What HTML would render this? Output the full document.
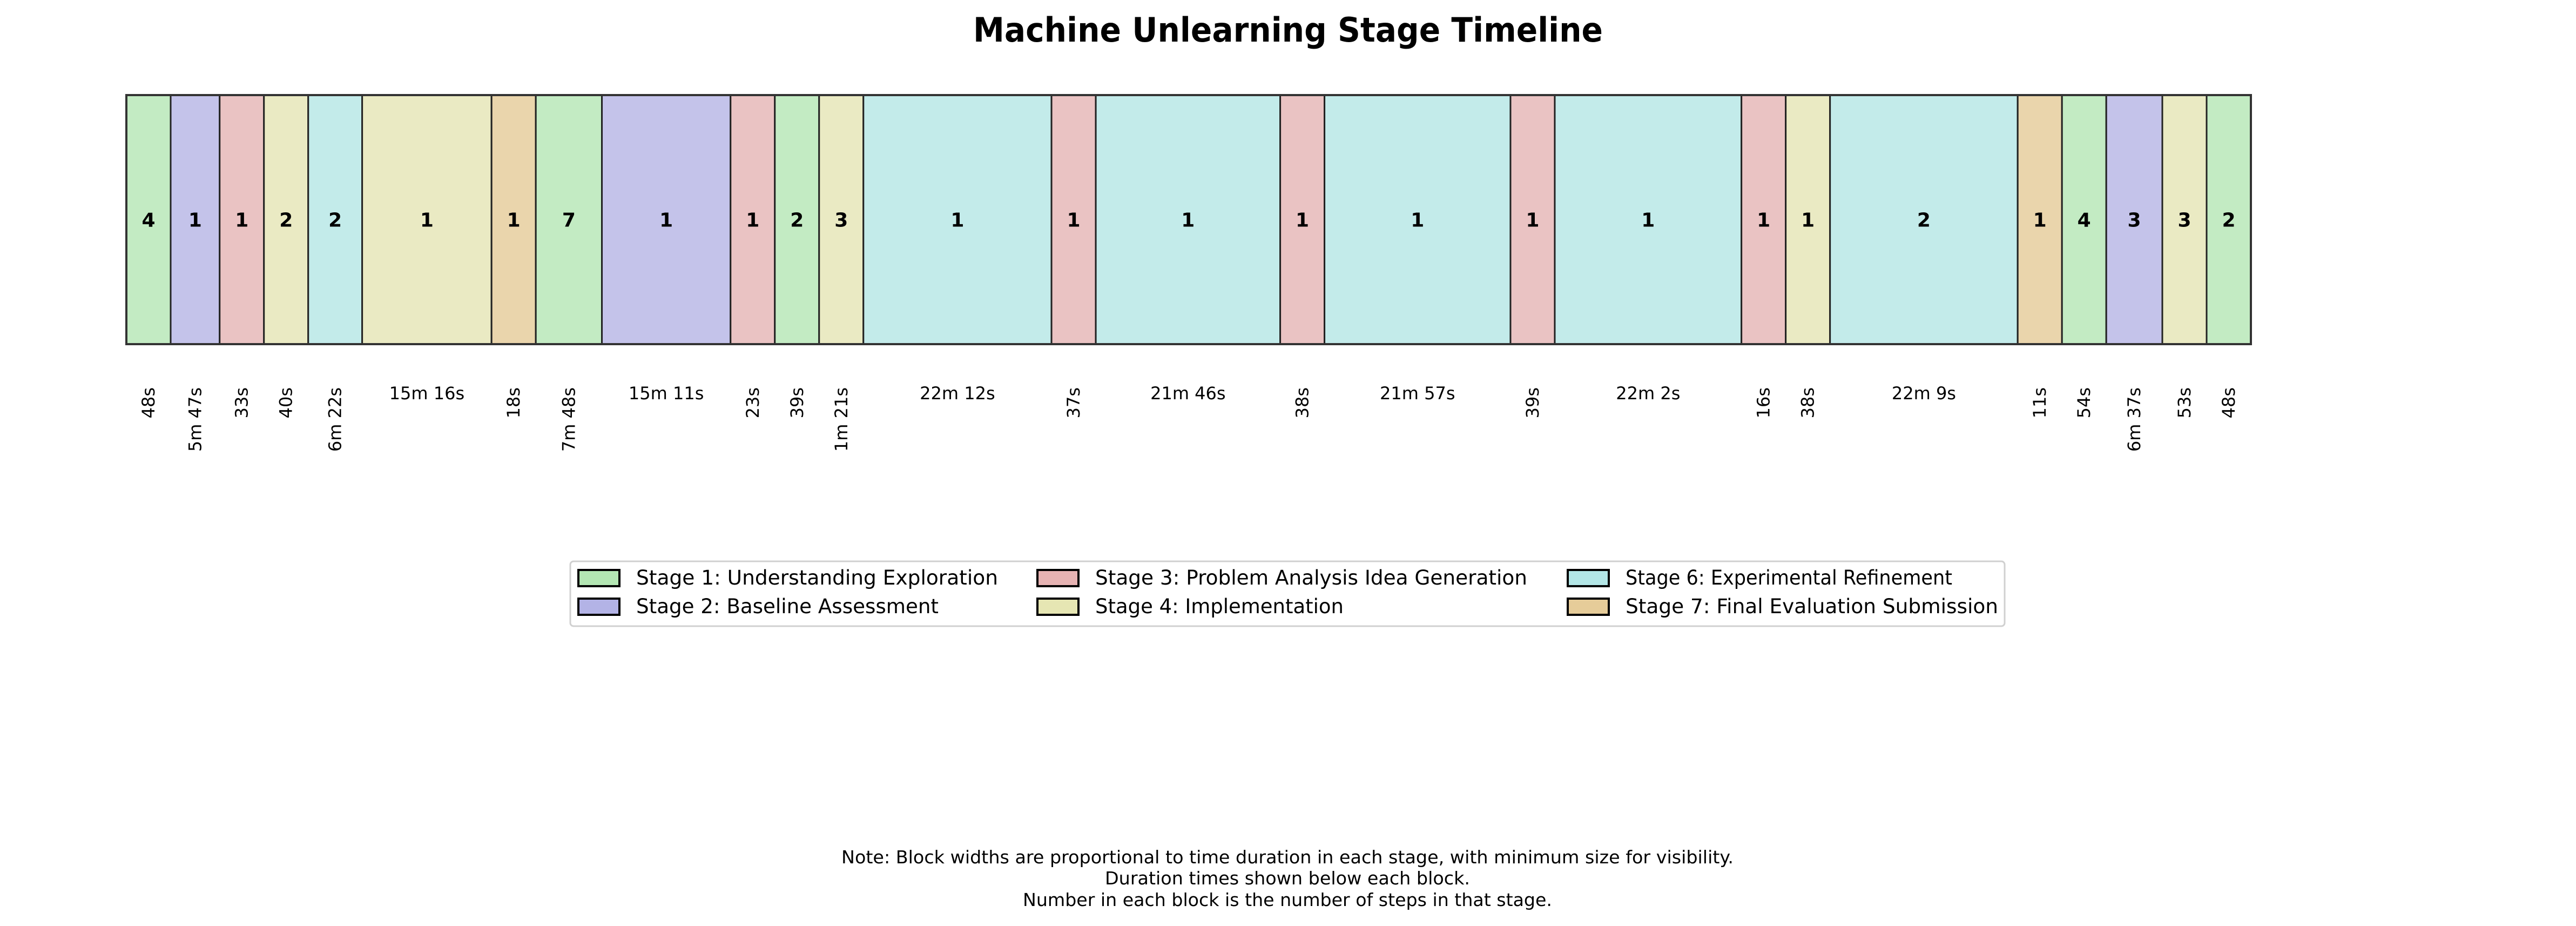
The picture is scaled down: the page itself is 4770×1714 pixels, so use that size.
<!DOCTYPE html>
<html><head><meta charset="utf-8"><style>
html,body{margin:0;padding:0;background:#fff;}
svg{display:block;font-family:"DejaVu Sans","Liberation Sans",sans-serif;}
</style></head><body>
<svg id="chart" width="4770" height="1714" viewBox="0 0 4770 1714" xmlns="http://www.w3.org/2000/svg">
<text x="2385" y="77" text-anchor="middle" font-size="62" font-weight="bold" textLength="1166" lengthAdjust="spacingAndGlyphs">Machine Unlearning Stage Timeline</text>
<g id="blocks"></g>
<g id="legend"></g>
<g font-size="33" text-anchor="middle">
<text x="2384" y="1598" textLength="1652" lengthAdjust="spacingAndGlyphs">Note: Block widths are proportional to time duration in each stage, with minimum size for visibility.</text>
<text x="2384" y="1637" textLength="676" lengthAdjust="spacingAndGlyphs">Duration times shown below each block.</text>
<text x="2384" y="1677" textLength="980" lengthAdjust="spacingAndGlyphs">Number in each block is the number of steps in that stage.</text>
</g>
</svg>
<script>
const stages = [1,2,3,4,6,4,7,1,2,3,1,4,6,3,6,3,6,3,6,3,4,6,7,1,2,4,1];
const stepCounts = [4,1,1,2,2,1,1,7,1,1,2,3,1,1,1,1,1,1,1,1,1,2,1,4,3,3,2];
const durations = [48,347,33,40,382,916,18,468,911,23,39,81,1332,37,1306,38,1317,39,1322,16,38,1329,11,54,397,53,48];
const stageNames = ["Stage 1: Understanding Exploration","Stage 2: Baseline Assessment","Stage 3: Problem Analysis Idea Generation","Stage 4: Implementation","Stage 6: Experimental Refinement","Stage 7: Final Evaluation Submission"];
const legendStages = [1,2,3,4,6,7];

const NS="http://www.w3.org/2000/svg";
const fill={1:"#c3ebc3",2:"#c4c3ea",3:"#eac3c3",4:"#eaeac3",6:"#c3ebea",7:"#ead5ac"};
const lfill={1:"#b3e6b3",2:"#b3b3e6",3:"#e6b3b3",4:"#e6e6b3",6:"#b3e6e6",7:"#e6cc99"};
const X0=234, X1=4168, Y0=176, Y1=637, MINW=82;
function fmt(s){const m=Math.floor(s/60),r=s%60;return m>0?m+"m "+r+"s":r+"s";}
function mk(tag,attrs,parent){const e=document.createElementNS(NS,tag);for(const k in attrs)e.setAttribute(k,attrs[k]);parent.appendChild(e);return e;}
const raw=durations.map(d=>d);
let k=0.25;
for(let it=0;it<50;it++){const tot=raw.reduce((a,d)=>a+Math.max(d*k,MINW),0);k*= (X1-X0-raw.filter(d=>d*k<MINW).length*MINW)/(tot-raw.filter(d=>d*k<MINW).length*MINW);}
const widths=raw.map(d=>Math.max(d*k,MINW));
const g=document.getElementById("blocks");
let x=X0;
widths.forEach((w,i)=>{
  const r=mk("rect",{x:x,y:Y0,width:w,height:Y1-Y0,fill:fill[stages[i]],stroke:"#222","stroke-width":3},g);
  
  
  const cx=x+w/2;
  const t=mk("text",{x:cx,y:(Y0+Y1)/2+13,"text-anchor":"middle","font-size":36,"font-weight":"bold"},g);
  t.textContent=stepCounts[i];
  
  
  let lab;
  if(w>150){
    lab=mk("text",{x:cx,y:739,"text-anchor":"middle","font-size":32},g);
  } else {
    lab=mk("text",{x:cx+11,y:717,"text-anchor":"end","font-size":32,transform:`rotate(-90 ${cx+11} 717)`},g);
  }
  lab.textContent=fmt(durations[i]);
  
  
  x+=w;
});
mk("rect",{x:X0,y:Y0,width:X1-X0,height:Y1-Y0,fill:"none",stroke:"#333","stroke-width":4},g);
const L=document.getElementById("legend");
const lb=mk("rect",{x:1056,y:1039,width:2656,height:120,rx:6,fill:"#fff",stroke:"#d0d0d0","stroke-width":3},L);


const colX=[1071,1921,2903], rowY=[1070,1123];
const textLens=[670,560,800,460,605,690];
legendStages.forEach((s,i)=>{
  const c=Math.floor(i/2), rr=i%2;
  const sw=mk("rect",{x:colX[c],y:rowY[rr]-15,width:76,height:30,fill:lfill[s],stroke:"#000","stroke-width":4},L);
  
  
  const t=mk("text",{x:colX[c]+107,y:rowY[rr]+12,"font-size":37,textLength:textLens[i],lengthAdjust:"spacingAndGlyphs"},L);
  t.textContent=stageNames[i];
  
  
});
</script>
</body></html>
